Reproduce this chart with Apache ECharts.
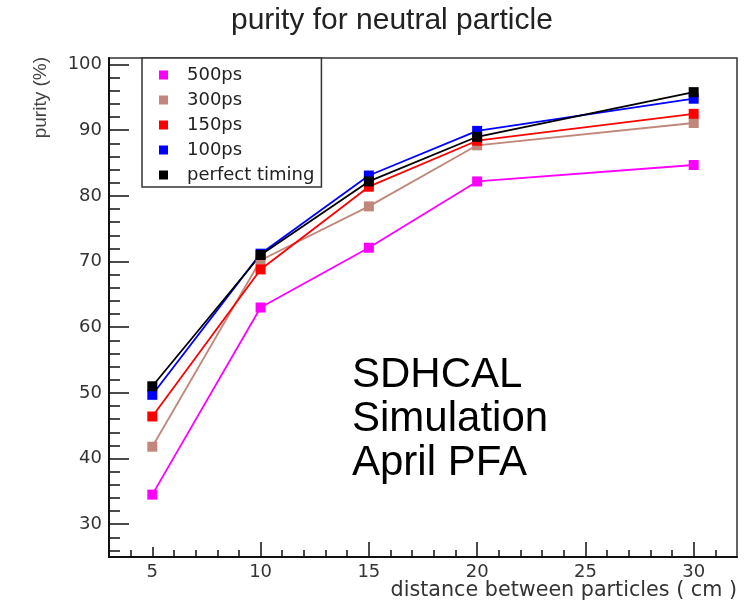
<!DOCTYPE html>
<html>
<head>
<meta charset="utf-8">
<script src="https://cdn.jsdelivr.net/npm/echarts@6/dist/echarts.min.js"></script>
<style>
  html, body { margin: 0; padding: 0; background: #fff; }
  #chart { width: 753px; height: 603px; }
</style>
</head>
<body>
<div id="chart"></div>
<script>
  // data
  var distances = [5, 10, 15, 20, 30];
  var purity500 = [34.5, 63.0, 72.1, 82.2, 84.7];
  var purity300 = [41.8, 70.2, 78.4, 87.7, 91.1];
  var purity150 = [46.4, 68.8, 81.4, 88.4, 92.5];
  var purity100 = [49.7, 71.2, 83.1, 89.9, 94.8];
  var purityPerfect = [51.0, 71.0, 82.2, 89.0, 95.8];
  var seriesNames = ['500ps', '300ps', '150ps', '100ps', 'perfect timing'];
  var seriesColors = ['#ff00ff', '#c0877a', '#ff0000', '#0000ff', '#000000'];
  var xTickLabels = [5, 10, 15, 20, 25, 30];
  var yTickLabels = [30, 40, 50, 60, 70, 80, 90, 100];

  var font = 'Liberation Sans';
  var rootFont = 'DejaVu Sans'; // wide like the stretched ROOT labels

  // minor ticks (ROOT style)
  var xMinor = [];
  for (var i = 4; i <= 31; i++) { if (i % 5 !== 0) xMinor.push(i); }
  var yMinor = [];
  for (var j = 26; j <= 100; j += 2) { if (j % 10 !== 0) yMinor.push(j); }

  function pairs(vals) {
    return distances.map(function (d, k) { return [d, vals[k]]; });
  }

  var allValues = [purity500, purity300, purity150, purity100, purityPerfect];

  var myChart = echarts.init(document.getElementById('chart'));

  function xAx(ticks, len, withLine, withLabels) {
    return {
      type: 'value', min: 3, max: 32, position: 'bottom',
      axisLine: { show: withLine, onZero: false, lineStyle: { color: '#111', width: 2 } },
      axisTick: { show: true, inside: true, length: len, customValues: ticks, lineStyle: { color: '#111', width: 1.5 } },
      axisLabel: { show: withLabels, customValues: xTickLabels, fontSize: 18, color: '#333', fontFamily: rootFont, margin: 6 },
      splitLine: { show: false }
    };
  }
  function yAx(ticks, len, withLine, withLabels) {
    return {
      type: 'value', min: 25, max: 101, position: 'left',
      axisLine: { show: withLine, onZero: false, lineStyle: { color: '#111', width: 2 } },
      axisTick: { show: true, inside: true, length: len, customValues: ticks, lineStyle: { color: '#111', width: 1.5 } },
      axisLabel: { show: withLabels, customValues: yTickLabels, fontSize: 18, color: '#333', fontFamily: rootFont, margin: 7 },
      splitLine: { show: false }
    };
  }

  var option = {
    animation: false,
    backgroundColor: '#fff',
    title: {
      text: 'purity for neutral particle',
      left: 226, top: 1,
      textStyle: { fontSize: 30, fontWeight: 'normal', color: '#222', fontFamily: font }
    },
    grid: {
      left: 109, right: 16, top: 58, bottom: 46,
      show: true, borderColor: '#333', borderWidth: 1.5
    },
    legend: {
      orient: 'vertical',
      left: 142, top: 58,
      padding: [8, 7, 3, 17],
      itemGap: 7,
      itemWidth: 9, itemHeight: 9,
      icon: 'rect',
      backgroundColor: '#fff',
      borderColor: '#333', borderWidth: 1.5,
      textStyle: { fontSize: 18, lineHeight: 18, color: '#222', fontFamily: rootFont, padding: [0, 0, 0, 14] },
      data: seriesNames
    },
    xAxis: [
      xAx([10, 15, 20, 25, 30], 15, true, true),
      xAx([5], 10, false, false),
      xAx(xMinor, 7, false, false)
    ],
    yAxis: [
      yAx(yTickLabels, 20, true, true),
      yAx(yMinor, 11, false, false)
    ],
    graphic: [
      {
        type: 'text', left: 31, top: 57, rotation: Math.PI / 2,
        style: { text: 'purity (%)', fontSize: 19, fill: '#444', fontFamily: font }
      },
      {
        type: 'text', right: 16, top: 580,
        style: { text: 'distance between particles ( cm )', fontSize: 20.7, fill: '#333', fontFamily: rootFont }
      },
      {
        type: 'text', left: 352, top: 353,
        style: { text: 'SDHCAL\nSimulation\nApril PFA', fontSize: 42, lineHeight: 44, fill: '#000', fontFamily: font }
      }
    ],
    series: seriesNames.map(function (name, k) {
      return {
        name: name,
        type: 'line',
        data: pairs(allValues[k]),
        symbol: 'rect',
        symbolSize: 10,
        color: seriesColors[k],
        lineStyle: { width: 1.8, color: seriesColors[k] },
        itemStyle: { color: seriesColors[k] }
      };
    })
  };
  myChart.setOption(option);
</script>
</body>
</html>
